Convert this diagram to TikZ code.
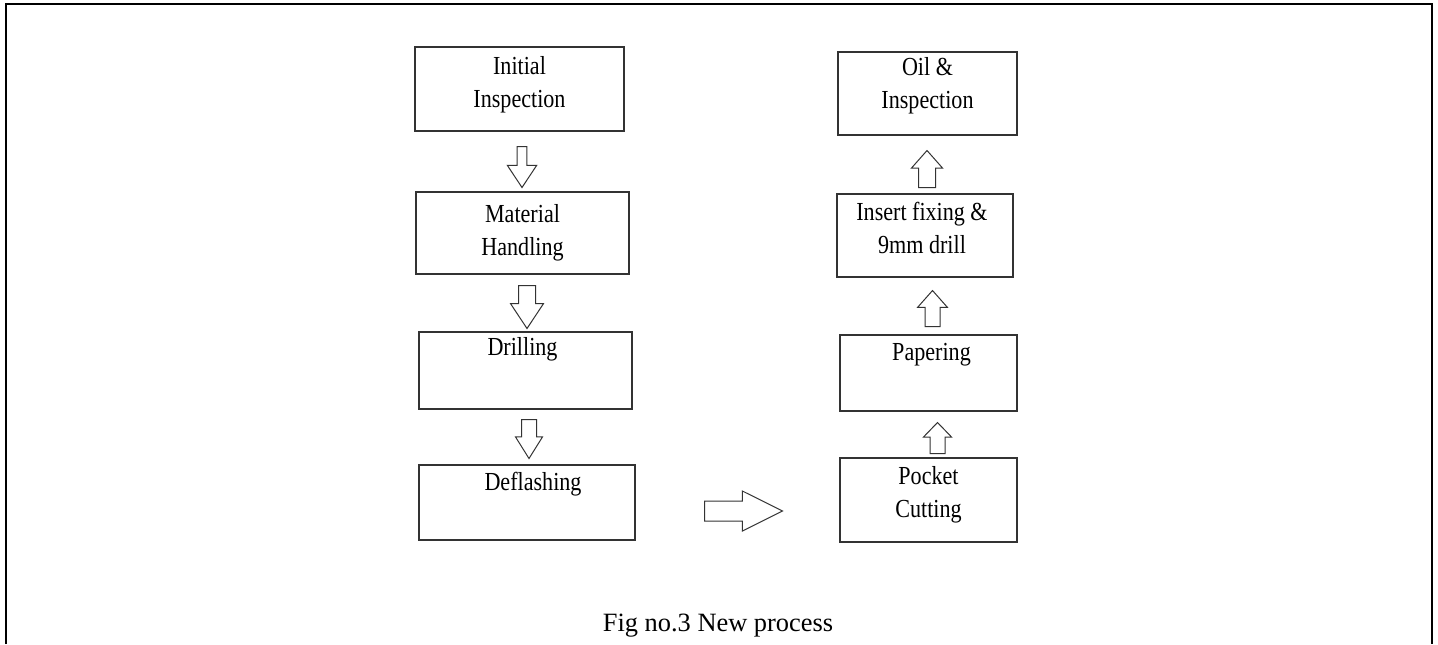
\documentclass[tikz,border=0pt]{standalone}
\usepackage{fontspec}
\setmainfont{Liberation Serif}
\newfontfamily\boxfont[FakeStretch=0.85]{Liberation Serif}
\usetikzlibrary{shapes.arrows,positioning}

\begin{document}
\begin{tikzpicture}[x=0.5pt,y=-0.5pt]
\tikzstyle{stepbox}=[rectangle,draw=black!80,line width=0.6pt,inner sep=0pt]
\tikzstyle{lbl}=[inner sep=0pt,align=center,font=\boxfont\fontsize{13}{16.5}\selectfont]
\tikzstyle{blockarrow}=[single arrow,draw=black!80,line width=0.5pt,inner xsep=0pt,inner ysep=3.5pt,single arrow head indent=0pt,anchor=tail]
\tikzstyle{downarrow}=[blockarrow,rotate=-90,minimum height=20.5pt,single arrow head extend=3.5pt,single arrow tip angle=67]
\tikzstyle{uparrow}=[blockarrow,rotate=90,minimum height=18pt,single arrow head extend=3.5pt,single arrow tip angle=83]
\useasboundingbox (0,0) rectangle (1438,644);
% frame
\draw[line width=1pt] (6,644) -- (6,4) -- (1432,4) -- (1432,644);
% left column
\node[stepbox,minimum width=104.5pt,minimum height=42pt] (init) at (519.5,89) {};
\node[stepbox,minimum width=106.5pt,minimum height=41pt] (mat) at (522.5,233) {};
\node[stepbox,minimum width=106.5pt,minimum height=38.5pt] (drill) at (525.5,370.5) {};
\node[stepbox,minimum width=108pt,minimum height=37.5pt] (defl) at (527,502.5) {};
\node[lbl,below=5pt of init.north] (initT) {Initial\\Inspection};
\node[lbl,below=6.5pt of mat.north] (matT) {Material\\Handling};
\node[lbl,below=3pt of drill.north,xshift=-1.5pt] (drillT) {Drilling};
\node[lbl,below=3.5pt of defl.north,xshift=3pt] (deflT) {Deflashing};
\node[downarrow,inner ysep=2.2pt,single arrow head extend=4.9pt] (a1) at (522,146) {};
\node[downarrow,inner ysep=4pt,single arrow head extend=4pt,minimum height=21.5pt] (a2) at (527,285) {};
\node[downarrow,single arrow head extend=3pt,minimum height=19.5pt,single arrow tip angle=64] (a3) at (529,419) {};
% right column
\node[stepbox,minimum width=89.5pt,minimum height=41.5pt] (oil) at (927.5,93.5) {};
\node[stepbox,minimum width=88pt,minimum height=41.5pt] (ins) at (925,235.5) {};
\node[stepbox,minimum width=88.5pt,minimum height=38pt] (pap) at (928.5,373) {};
\node[stepbox,minimum width=88.5pt,minimum height=42pt] (pock) at (928.5,500) {};
\node[lbl,below=3pt of oil.north] (oilT) {Oil \&\\Inspection};
\node[lbl,below=4pt of ins.north,xshift=-1.5pt] (insT) {Insert fixing \&\\9mm drill};
\node[lbl,below=4pt of pap.north,xshift=1.5pt] (papT) {Papering};
\node[lbl,below=4.5pt of pock.north] (pockT) {Pocket\\Cutting};
\node[uparrow,inner ysep=4pt,minimum height=18.5pt] (u1) at (927,188) {};
\node[uparrow,single arrow head extend=3.75pt] (u2) at (932.5,327) {};
\node[uparrow,minimum height=15.5pt,single arrow head extend=3.25pt,single arrow tip angle=88] (u3) at (937.5,454) {};
% across
\node[blockarrow,inner ysep=4.75pt,minimum height=39pt,single arrow head extend=5pt,single arrow tip angle=53] (next) at (704,511) {};
\node[font=\fontsize{13.2}{16}\selectfont,anchor=base] (cap) at (718,631) {Fig no.3 New process};
\end{tikzpicture}
\end{document}
